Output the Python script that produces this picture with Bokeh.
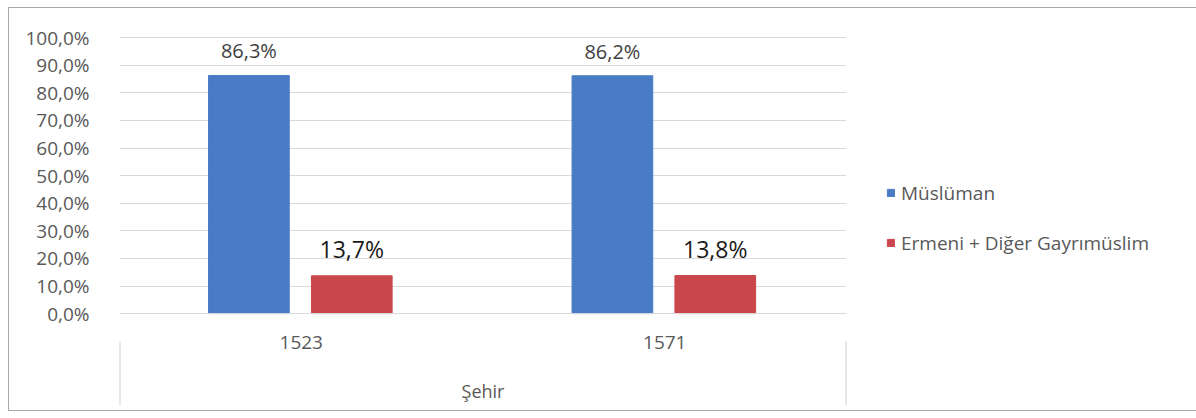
from bokeh.plotting import figure
from bokeh.models import ColumnDataSource, FactorRange, FixedTicker, Legend, LegendItem, LabelSet
from bokeh.core.properties import value
from bokeh.transform import dodge
from bokeh.embed import file_html
from bokeh.resources import INLINE

# ---- data ----
years = ["1523", "1571"]
muslim = [86.3, 86.2]
non_muslim = [13.7, 13.8]
muslim_labels = ["86,3%", "86,2%"]
non_muslim_labels = ["13,7%", "13,8%"]
y_ticks = [0, 10, 20, 30, 40, 50, 60, 70, 80, 90, 100]
y_tick_labels = ["0,0%", "10,0%", "20,0%", "30,0%", "40,0%", "50,0%",
                 "60,0%", "70,0%", "80,0%", "90,0%", "100,0%"]
series_names = ["Müslüman", "Ermeni + Diğer Gayrımüslim"]
group_name = "Şehir"

FONT = "Open Sans"
BLUE = "#4a7cc5"
RED = "#c9474c"

src = ColumnDataSource(dict(year=years, m=muslim, n=non_muslim,
                            ml=muslim_labels, nl=non_muslim_labels))

p = figure(x_range=FactorRange(*years), y_range=(-33.3, 102.6),
           frame_width=727, frame_height=375,
           output_backend="svg", toolbar_location=None,
           min_border_left=110, min_border_right=343, min_border_top=22, min_border_bottom=5)
p.styles = {"border": "1px solid #a8a8a8", "box-sizing": "border-box",
            "margin-left": "8px", "margin-top": "7px"}
p.outline_line_color = None
p.background_fill_color = "white"
p.border_fill_color = "white"

# y axis
p.yaxis.ticker = FixedTicker(ticks=y_ticks)
p.yaxis.major_label_overrides = {t: l for t, l in zip(y_ticks, y_tick_labels)}
p.yaxis.axis_line_color = None
p.yaxis.major_tick_line_color = None
p.yaxis.minor_tick_line_color = None
p.yaxis.major_label_text_font = FONT
p.yaxis.major_label_text_font_size = "19px"
p.yaxis.major_label_text_color = "#595959"
p.yaxis.major_label_standoff = 24
p.ygrid.ticker = FixedTicker(ticks=y_ticks)
p.ygrid.grid_line_color = "#d9d9d9"
p.xgrid.grid_line_color = None

# x axis
p.xaxis.fixed_location = 0
p.xaxis.axis_line_color = "#d9d9d9"
p.xaxis.major_tick_line_color = None
p.xaxis.minor_tick_line_color = None
p.xaxis.major_label_text_font = FONT
p.xaxis.major_label_text_font_size = "19px"
p.xaxis.major_label_text_color = "#595959"
p.xaxis.major_label_standoff = 16
p.xaxis.axis_label = group_name
p.xaxis.axis_label_text_font = FONT
p.xaxis.axis_label_text_font_size = "18px"
p.xaxis.axis_label_text_font_style = "normal"
p.xaxis.axis_label_text_color = "#595959"
p.xaxis.axis_label_standoff = 27

# category separators below the axis
p.segment(x0=[0, 2], y0=[-10, -10], x1=[0, 2], y1=[-33.3, -33.3],
          line_color="#d0d0d0", line_width=2)

bw = 0.222
r1 = p.vbar(x=dodge("year", -0.144, range=p.x_range), top="m", width=bw,
            source=src, fill_color=BLUE, line_color=BLUE)
r2 = p.vbar(x=dodge("year", 0.139, range=p.x_range), top="n", width=bw,
            source=src, fill_color=RED, line_color=RED)

p.add_layout(LabelSet(x=dodge("year", -0.144, range=p.x_range), y="m", text="ml",
                      source=src, text_align="center", text_baseline="bottom", y_offset=11,
                      text_font=value(FONT), text_font_size=value("20px"),
                      text_color="#404040"))
p.add_layout(LabelSet(x=dodge("year", 0.139, range=p.x_range), y="n", text="nl",
                      source=src, text_align="center", text_baseline="bottom", y_offset=11,
                      text_font=value(FONT), text_font_size=value("23px"),
                      text_color="#1a1a1a"))

legend = Legend(items=[LegendItem(label=series_names[0], renderers=[r1]),
                       LegendItem(label=series_names[1], renderers=[r2])],
                location="center_left", orientation="vertical",
                label_text_font=FONT, label_text_font_size="19px", label_text_color="#595959",
                glyph_width=9, glyph_height=9, spacing=24, label_standoff=6,
                border_line_color=None, background_fill_alpha=0, margin=40, padding=0)
p.add_layout(legend, "right")

open("out.html", "w").write(file_html(p, INLINE))
